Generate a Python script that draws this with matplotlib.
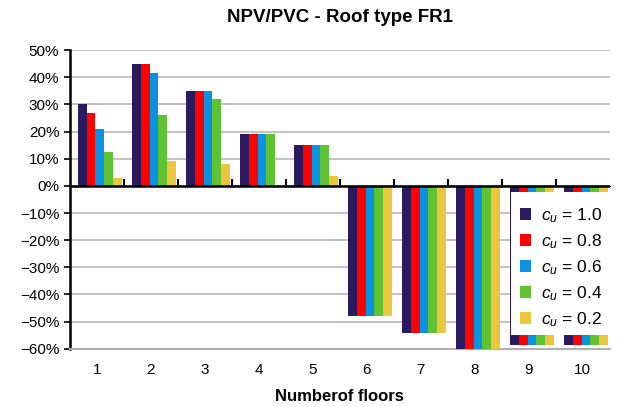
import numpy as np
import matplotlib

matplotlib.use("Agg")
import matplotlib.pyplot as plt
from matplotlib.patches import Rectangle
from matplotlib.ticker import PercentFormatter

plt.rcParams['font.family'] = ['Liberation Sans', 'DejaVu Sans']
plt.rcParams['mathtext.fontset'] = 'custom'
plt.rcParams['mathtext.it'] = 'Liberation Sans:italic'
plt.rcParams['mathtext.rm'] = 'Liberation Sans'

floors = [1, 2, 3, 4, 5, 6, 7, 8, 9, 10]
series_labels = ['$c_u$ = 1.0', '$c_u$ = 0.8', '$c_u$ = 0.6', '$c_u$ = 0.4', '$c_u$ = 0.2']
cu_10 = [30, 45, 35, 19, 15, -48, -54, -62, -58.5, -58.5]
cu_08 = [27, 45, 35, 19, 15, -48, -54, -62, -58.5, -58.5]
cu_06 = [21, 41.5, 35, 19, 15, -48, -54, -62, -58.5, -58.5]
cu_04 = [12.5, 26, 32, 19, 15, -48, -54, -62, -58.5, -58.5]
cu_02 = [3, 9, 8, 0.3, 3.5, -48, -54, -62, -58.5, -58.5]
series = [cu_10, cu_08, cu_06, cu_04, cu_02]
colors = ['#2b1b5e', '#ff0000', '#0a92e2', '#5ec232', '#eac53e']

fig = plt.figure(figsize=(6.28, 4.07), dpi=100)
ax = fig.add_axes([0.111, 0.143, 0.86, 0.734])

x = np.arange(len(floors))
w = 0.165
shift = 0.06  # bars sit slightly right of the labels (3D look in original)
for i, (vals, c, lab) in enumerate(zip(series, colors, series_labels)):
    ax.bar(x + shift + (i - 2) * w, vals, width=w, color=c, label=lab,
           edgecolor='none', zorder=3)

ax.set_xlim(-0.5, len(floors) - 0.5)
ax.set_ylim(-60, 50)
ax.set_yticks(np.arange(-60, 51, 10))
ax.yaxis.set_major_formatter(PercentFormatter(decimals=0))
ax.grid(axis='y', color='#b8b8b8', linewidth=1.2, zorder=0)
ax.set_xticks(x)
ax.set_xticklabels([str(f) for f in floors])
ax.tick_params(axis='x', length=0, labelsize=11, pad=10)
ax.tick_params(axis='y', labelsize=11, direction='out', length=4, width=1.2)

for s in ['top', 'right']:
    ax.spines[s].set_visible(False)
ax.spines['bottom'].set_color('#b0b0b0')
ax.spines['bottom'].set_linewidth(1.5)
ax.spines['left'].set_linewidth(1.8)

# zero line with category boundary ticks
ax.axhline(0, color='black', linewidth=1.8, zorder=4)
sec = ax.secondary_xaxis(60 / 110)
sec.set_xticks(np.arange(0.5, len(floors) - 0.5, 1))
sec.set_xticklabels([])
sec.tick_params(direction='out', length=5, width=1.5)
sec.spines['bottom'].set_visible(False)

ax.set_title('NPV/PVC - Roof type FR1', fontsize=13.5, fontweight='bold', pad=20)
ax.set_xlabel('Numberof floors', fontsize=12, fontweight='bold', labelpad=9)

# white legend box
ax.add_patch(Rectangle((0.818, 0.045), 0.191, 0.48, transform=ax.transAxes,
                       facecolor='white', edgecolor='none', zorder=4.5, clip_on=False))
leg = ax.legend(loc='upper left', bbox_to_anchor=(0.833, 0.478), fontsize=12.5,
                frameon=False, borderaxespad=0, borderpad=0,
                handlelength=0.65, handleheight=0.65, handletextpad=0.6,
                labelspacing=0.42)
leg.set_zorder(5)

fig.savefig('out.png', dpi=100)
